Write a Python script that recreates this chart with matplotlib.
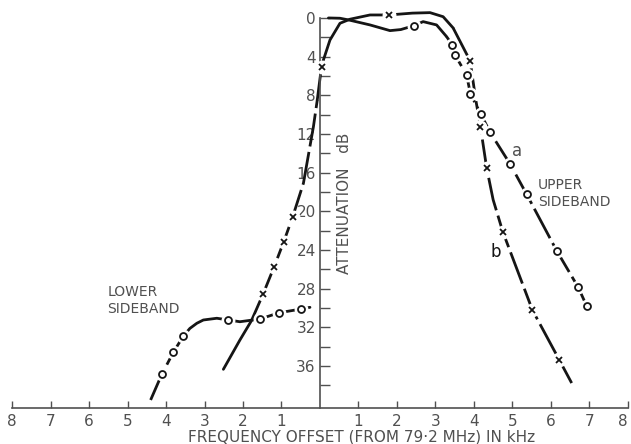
import numpy as np
import matplotlib.pyplot as plt

INK = "#151515"
GREY = "#505050"

# curve a (circles), upper sideband branch
a_up_x = [0.22, 0.52, 0.74, 1.3, 1.82, 2.1, 2.44, 2.68, 3.03, 3.29, 3.44, 3.51,
          3.81, 3.91, 4.18, 4.42, 4.94, 5.37, 6.15, 6.71, 6.93]
a_up_y = [0.0, 0.03, 0.2, 0.72, 1.31, 1.2, 0.8, 0.38, 0.72, 1.93, 2.79, 3.83,
          5.89, 7.86, 9.93, 11.82, 15.1, 18.23, 24.06, 27.85, 29.78]
a_up_mx = [2.44, 3.44, 3.51, 3.81, 3.91, 4.18, 4.42, 4.94, 5.37, 6.15, 6.71, 6.93]
a_up_my = [0.8, 2.79, 3.83, 5.89, 7.86, 9.93, 11.82, 15.1, 18.23, 24.06, 27.85, 29.78]

# curve a (circles), lower sideband branch
a_lo_x = [-4.4, -4.11, -3.81, -3.55, -3.38, -3.2, -3.03, -2.68, -2.38, -2.08,
          -1.56, -1.06, -0.48, -0.26]
a_lo_y = [39.5, 36.85, 34.57, 32.89, 32.1, 31.57, 31.23, 31.05, 31.23, 31.41,
          31.13, 30.48, 30.09, 29.92]
a_lo_mx = [-4.11, -3.81, -3.55, -2.38, -1.56, -1.06, -0.48]
a_lo_my = [36.85, 34.57, 32.89, 31.23, 31.13, 30.48, 30.09]

# curve b (crosses), one continuous trace
b_x = [-2.51, -2.08, -1.78, -1.48, -1.19, -0.94, -0.71, -0.43, -0.17, -0.07,
       0.04, 0.09, 0.26, 0.52, 0.78, 1.3, 1.79, 2.4, 2.86, 3.2, 3.46, 3.9,
       4.05, 4.17, 4.33, 4.5, 4.75, 5.52, 6.22, 6.54]
b_y = [36.33, 33.3, 31.3, 28.57, 25.72, 23.13, 20.58, 17.09, 11.24, 8.48,
       5.04, 4.34, 2.28, 0.55, 0.13, -0.31, -0.31, -0.5, -0.55, -0.13, 1.03,
       4.42, 8.5, 11.24, 15.48, 18.8, 22.1, 30.2, 35.37, 37.75]
b_mx = [-1.48, -1.19, -0.94, -0.71, 0.04, 1.79, 3.9, 4.17, 4.33, 4.75, 5.52, 6.22]
b_my = [28.57, 25.72, 23.13, 20.58, 5.04, -0.31, 4.42, 11.24, 15.48, 22.1, 30.2, 35.37]

x_ticks = [-8, -7, -6, -5, -4, -3, -2, -1, 1, 2, 3, 4, 5, 6, 7, 8]
y_major = [0, 4, 8, 12, 16, 20, 24, 28, 32, 36]
y_minor = [2, 6, 10, 14, 18, 22, 26, 30, 34, 38]

fig = plt.figure(figsize=(6.31, 4.44), dpi=100)
ax = fig.add_axes([4 / 631, 36 / 444, 625 / 631, 403 / 444])
ax.set_xlim(-8.21, 8.03)
ax.set_ylim(40.33, -1.34)


def seg(xs, ys, lo, hi, dashed=False):
    xs = np.asarray(xs)
    ys = np.asarray(ys)
    m = (xs >= lo) & (xs <= hi)
    kw = dict(color=INK, lw=2.0, solid_capstyle="round", zorder=2)
    if dashed:
        kw.update(ls=(0, (12, 2)), dash_capstyle="butt")
    ax.plot(xs[m], ys[m], **kw)


def marks(xs, ys, m):
    # white halo leaves the small gap the draughtsman left round each point
    ax.plot(xs, ys, ls="none", marker="o", ms=9, color="white", zorder=3)
    if m == "o":
        ax.plot(xs, ys, ls="none", marker="o", ms=5, mfc="white", mec=INK,
                mew=1.3, zorder=4)
    else:
        ax.plot(xs, ys, ls="none", marker="x", ms=5, color=INK, mew=1.3,
                zorder=4)


seg(a_up_x, a_up_y, 0, 3.3)
seg(a_up_x, a_up_y, 3.29, 7, dashed=True)
seg(a_lo_x, a_lo_y, -4.5, -3.55, dashed=True)
seg(a_lo_x, a_lo_y, -3.55, 0)
seg(b_x, b_y, -3, -1.48)
seg(b_x, b_y, -1.48, -0.07, dashed=True)
seg(b_x, b_y, -0.07, 3.46)
seg(b_x, b_y, 3.46, 7, dashed=True)

marks(a_up_mx, a_up_my, "o")
marks(a_lo_mx, a_lo_my, "o")
marks(b_mx, b_my, "x")

for s in ["top", "right"]:
    ax.spines[s].set_visible(False)
ax.spines["left"].set_position(("data", 0))
ax.spines["left"].set_bounds(0, 40.33)
ax.spines["bottom"].set_bounds(-8, 8)
for s in ["left", "bottom"]:
    ax.spines[s].set_color(GREY)
    ax.spines[s].set_linewidth(1.2)

ax.set_xticks(x_ticks)
ax.set_xticklabels([str(abs(v)) for v in x_ticks])
ax.set_yticks(y_major)
ax.set_yticks(y_minor, minor=True)
ax.tick_params(axis="x", direction="in", length=5, width=1, colors=GREY,
               labelsize=11, pad=4)
ax.tick_params(axis="y", which="both", direction="in", length=7, width=1,
               colors=GREY, labelsize=11, pad=3)
ax.get_xticklabels()[-1].set_horizontalalignment("right")

txt = dict(color=GREY, fontsize=10)
ax.text(0.65, 19.2, "ATTENUATION   dB", rotation=90, ha="center", va="center",
        color=GREY, fontsize=11)
fig.text(362 / 631, 1 - 437 / 444, "FREQUENCY OFFSET (FROM 79·2 MHz) IN kHz",
         ha="center", va="center", color=GREY, fontsize=11)
ax.text(-5.53, 27.6, "LOWER\nSIDEBAND", ha="left", va="top", linespacing=1.3, **txt)
ax.text(5.66, 16.5, "UPPER\nSIDEBAND", ha="left", va="top", linespacing=1.3, **txt)
ax.text(5.11, 13.8, "a", ha="center", va="center", color=GREY, fontsize=12)
ax.text(4.57, 24.2, "b", ha="center", va="center", color=INK, fontsize=12)

fig.savefig("out.png", dpi=100)
